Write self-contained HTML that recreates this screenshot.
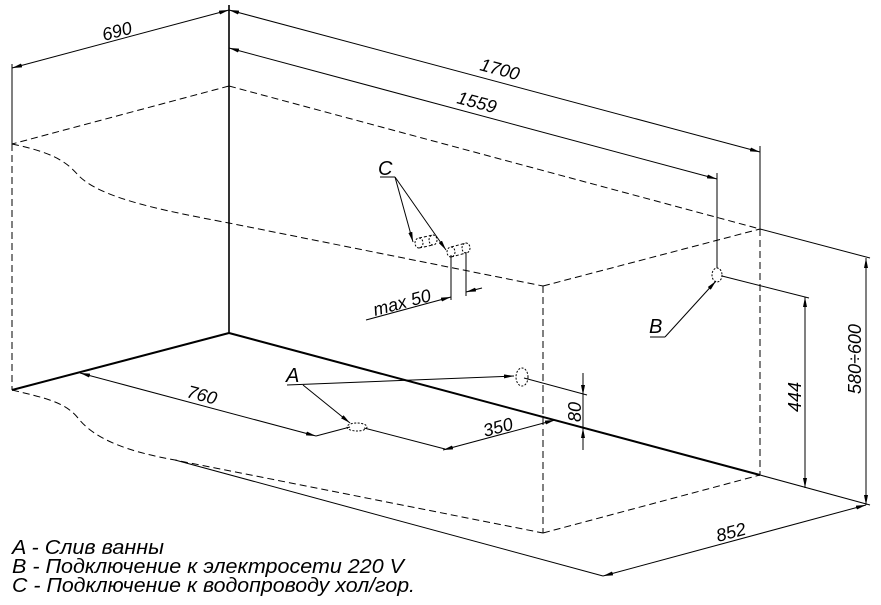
<!DOCTYPE html>
<html><head><meta charset="utf-8"><style>
html,body{margin:0;padding:0;background:#fff;}
svg{display:block;}
text{font-family:"Liberation Sans",sans-serif;font-style:italic;fill:#000;}
</style></head><body>
<svg width="881" height="605" viewBox="0 0 881 605" xmlns="http://www.w3.org/2000/svg">
<defs>
<marker id="ar" viewBox="0 0 10 4" refX="10" refY="2" markerWidth="10" markerHeight="4" orient="auto-start-reverse" markerUnits="userSpaceOnUse"><path d="M0,0 L10,2 L0,4z" fill="#000"/></marker>
</defs>
<g stroke="#000" fill="none" stroke-width="1">
<g stroke-dasharray="7,4">
<line x1="229" y1="86" x2="12" y2="144"/>
<line x1="229" y1="86" x2="760" y2="229"/>
<path d="M12,144 C50,152 65,160 78,175 C100,198 160,210 229,223 L543,286"/>
<line x1="543" y1="286" x2="760" y2="229"/>
<line x1="543" y1="286" x2="543" y2="533"/>
<line x1="760" y1="229" x2="760" y2="475"/>
<line x1="12" y1="144" x2="12" y2="390"/>
<path d="M12,390 C45,398 65,402 78,418 C95,440 130,452 175,460 L543,533"/>
<line x1="543" y1="533" x2="760" y2="475"/>
</g>
<line x1="229" y1="5" x2="229" y2="333" stroke-width="1.6"/>
<line x1="12" y1="390" x2="229" y2="333" stroke-width="2"/>
<line x1="229" y1="333" x2="760" y2="475" stroke-width="2"/>
<line x1="12" y1="64" x2="12" y2="144"/>
<line x1="760" y1="146" x2="760" y2="229"/>
<line x1="717" y1="173" x2="717" y2="268"/>
<line x1="760" y1="229" x2="870" y2="258"/>
<line x1="722" y1="276" x2="809" y2="298"/>
<line x1="760" y1="475" x2="870" y2="505"/>
<line x1="175" y1="460" x2="603" y2="576"/>
<line x1="12" y1="68" x2="229" y2="10" marker-start="url(#ar)" marker-end="url(#ar)"/>
<line x1="229" y1="10" x2="760" y2="152" marker-start="url(#ar)" marker-end="url(#ar)"/>
<line x1="229" y1="48" x2="717" y2="179" marker-start="url(#ar)" marker-end="url(#ar)"/>
<line x1="866" y1="258" x2="866" y2="505" marker-start="url(#ar)" marker-end="url(#ar)"/>
<line x1="805" y1="297" x2="805" y2="488" marker-start="url(#ar)" marker-end="url(#ar)"/>
<line x1="603" y1="576" x2="866" y2="505" marker-start="url(#ar)" marker-end="url(#ar)"/>
<line x1="80" y1="373" x2="316" y2="436" marker-start="url(#ar)" marker-end="url(#ar)"/>
<line x1="316" y1="436" x2="350" y2="427"/>
<line x1="364" y1="428" x2="445" y2="449"/>
<line x1="443" y1="450" x2="555" y2="420" marker-start="url(#ar)" marker-end="url(#ar)"/>
<line x1="524" y1="378" x2="587" y2="395"/>
<line x1="583" y1="373" x2="583" y2="395" marker-end="url(#ar)"/>
<line x1="583" y1="450" x2="583" y2="428" marker-end="url(#ar)"/>
<line x1="583" y1="395" x2="583" y2="428"/>
<line x1="380" y1="177" x2="395" y2="177"/>
<line x1="395" y1="177" x2="413" y2="242" marker-end="url(#ar)"/>
<line x1="395" y1="177" x2="446" y2="250" marker-end="url(#ar)"/>
<ellipse cx="419" cy="243" rx="4" ry="5" stroke-dasharray="2,1.5"/>
<ellipse cx="433" cy="240" rx="4" ry="5" stroke-dasharray="2,1.5"/>
<line x1="419" y1="238" x2="433" y2="235" stroke-dasharray="3,2"/>
<line x1="419" y1="248" x2="433" y2="245" stroke-dasharray="3,2"/>
<ellipse cx="451" cy="252" rx="4" ry="5" stroke-dasharray="2,1.5"/>
<ellipse cx="466" cy="248" rx="4" ry="5" stroke-dasharray="2,1.5"/>
<line x1="451" y1="247" x2="466" y2="243" stroke-dasharray="3,2"/>
<line x1="451" y1="257" x2="466" y2="253" stroke-dasharray="3,2"/>
<line x1="451" y1="255" x2="451" y2="300"/>
<line x1="466" y1="252" x2="466" y2="296"/>
<line x1="366" y1="320" x2="451" y2="297" marker-end="url(#ar)"/>
<line x1="482" y1="288" x2="466" y2="292" marker-end="url(#ar)"/>
<ellipse cx="717" cy="275" rx="5" ry="7" stroke-dasharray="2,1.5"/>
<line x1="650" y1="337" x2="665" y2="337"/>
<line x1="665" y1="337" x2="716" y2="281" marker-end="url(#ar)"/>
<ellipse cx="357" cy="427" rx="10" ry="4" stroke-dasharray="2,1.5"/>
<ellipse cx="522" cy="377" rx="6" ry="9" stroke-dasharray="2,1.5"/>
<line x1="287" y1="385" x2="514" y2="376" marker-end="url(#ar)"/>
<line x1="303" y1="385" x2="350" y2="423" marker-end="url(#ar)"/>
</g>
<g font-size="18">
<text transform="translate(104,41) rotate(-15)">690</text>
<text transform="translate(479,70) rotate(15)">1700</text>
<text transform="translate(456,103) rotate(15)">1559</text>
<text transform="translate(186,397) rotate(15)">760</text>
<text transform="translate(485,437) rotate(-15)">350</text>
<text transform="translate(581,422) rotate(-90)">80</text>
<text transform="translate(801,412) rotate(-90)">444</text>
<text transform="translate(861,394) rotate(-90)">580÷600</text>
<text transform="translate(718,542) rotate(-15)">852</text>
<text transform="translate(375,316) rotate(-15)">max  50</text>
<text x="378" y="175" font-size="20">C</text>
<text x="649" y="333" font-size="20">B</text>
<text x="286" y="382" font-size="20">A</text>
</g>
<g font-size="20">
<text x="12" y="554" textLength="152" lengthAdjust="spacingAndGlyphs">A - Слив ванны</text>
<text x="12" y="573" textLength="392" lengthAdjust="spacingAndGlyphs">B - Подключение к электросети 220 V</text>
<text x="12" y="592" textLength="403" lengthAdjust="spacingAndGlyphs">C - Подключение к водопроводу хол/гор.</text>
</g>
</svg>
</body></html>
